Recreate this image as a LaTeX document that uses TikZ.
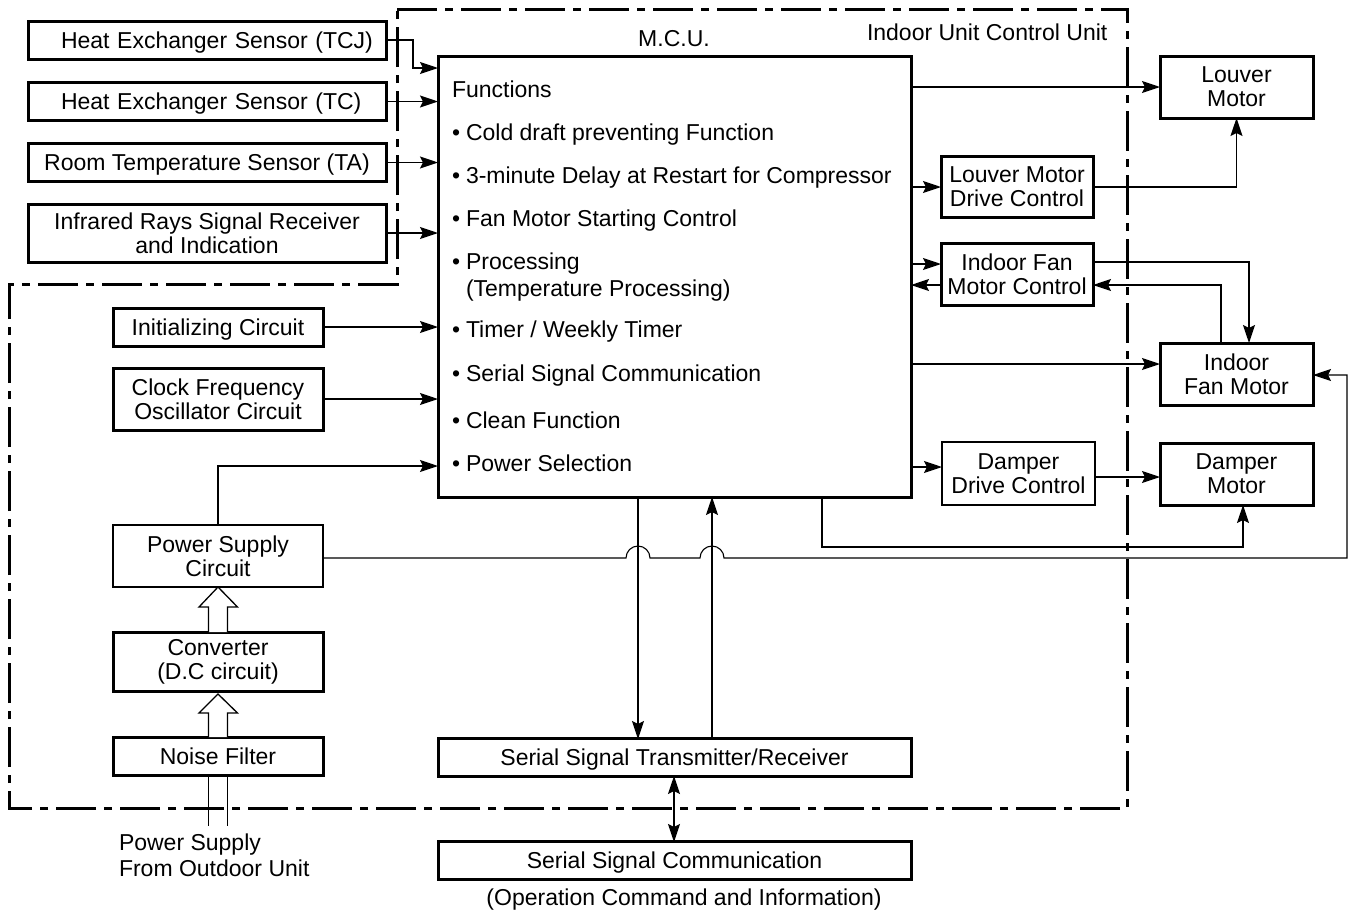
\documentclass[tikz,border=0pt]{standalone}
\usepackage{fontspec}
\setmainfont{Liberation Sans}
\usetikzlibrary{arrows.meta,calc}
\tikzset{
  every node/.style={font=\fontsize{23}{24}\selectfont},
  boxthick/.style={draw=black,line width=3pt,fill=white,inner sep=0pt,outer sep=0pt,align=center,minimum height=#1},
  boxthin/.style={draw=black,line width=1.2pt,fill=white,inner sep=0pt,outer sep=0pt,align=center,minimum height=#1},
  oneline/.style={text height=16.5pt,text depth=0pt},
  label/.style={inner sep=0pt,outer sep=0pt,anchor=base west},
  wire/.style={draw=black,line width=1.5pt,-{Stealth[length=18pt,width=12pt,inset=3pt]}},
  thinwire/.style={wire,line width=1.1pt},
  bothwire/.style={draw=black,line width=1.5pt,{Stealth[length=18pt,width=12pt,inset=3pt]}-{Stealth[length=18pt,width=12pt,inset=3pt]}},
  boundary/.style={draw=black,line width=3pt,dash pattern=on 40pt off 8pt on 8pt off 8pt},
  hollow/.style={draw=black,line width=1.3pt,fill=white},
}
\begin{document}
\begin{tikzpicture}[x=1pt,y=-1pt]
\useasboundingbox (0,0) rectangle (1352,914);
\fill[white] (0,0) rectangle (1352,914);

% boundary
\draw[boundary] (397,9) -- (1127,9) -- (1127,808) -- (9,808) -- (9,284) -- (397,284) -- cycle;

% sensors
\node[boxthick=38pt,oneline,minimum width=358pt,text width=358pt,align=left] (tcj) at (207,40) {\hspace*{33pt}Heat Exchanger Sensor (TCJ)};
\node[boxthick=38pt,oneline,minimum width=358pt,text width=358pt,align=left] (tc) at (207,101.5) {\hspace*{33pt}Heat Exchanger Sensor (TC)};
\node[boxthick=38pt,oneline,minimum width=358pt] (ta) at (207,162.5) {Room Temperature Sensor (TA)};
\node[boxthick=58pt,minimum width=358pt] (ir) at (207,233) {Infrared Rays Signal Receiver\\and Indication};

% left column
\node[boxthick=38pt,oneline,minimum width=210pt] (init) at (218,327) {Initializing Circuit};
\node[boxthick=62pt,minimum width=210pt] (clock) at (218,399) {Clock Frequency\\Oscillator Circuit};
\node[boxthin=62pt,minimum width=210pt] (psc) at (218,556) {Power Supply\\Circuit};
\node[boxthick=59pt,minimum width=210pt] (conv) at (218,662) {Converter\\(D.C circuit)};
\node[boxthick=38pt,oneline,minimum width=210pt] (noise) at (218,756) {Noise Filter};

% hollow power arrows
\draw[hollow] (208.5,632) -- (208.5,607) -- (199,607) -- (218,587) -- (237.5,607) -- (227.5,607) -- (227.5,632);
\draw[hollow] (208.5,737) -- (208.5,713) -- (199,713) -- (218,694) -- (237.5,713) -- (227.5,713) -- (227.5,737);

% MCU
\node[boxthick=441pt,minimum width=473pt] (mcu) at (674.5,276.5) {};
\node[inner sep=0pt] (mcutitle) at (674,39) {M.C.U.};
\node[label] (unitname) at (867,40) {Indoor Unit Control Unit};
\node[label] (fn) at (452,97) {Functions};
\foreach \nm/\yy/\tx in {
  f1/140/{Cold draft preventing Function},
  f2/183/{3-minute Delay at Restart for Compressor},
  f3/226/{Fan Motor Starting Control},
  f4/269/{Processing},
  f4b/296/{(Temperature Processing)},
  f5/337/{Timer / Weekly Timer},
  f6/381/{Serial Signal Communication},
  f7/428/{Clean Function},
  f8/471/{Power Selection}}
  {\node[label] (\nm) at (466,\yy) {\tx};}
\foreach \nm/\yy in {b1/140,b2/183,b3/226,b4/269,b5/337,b6/381,b7/428,b8/471}
  {\node[label] (\nm) at (452,\yy) {•};}

% right side
\node[boxthick=62pt,minimum width=153pt] (lm) at (1236.5,87) {Louver\\Motor};
\node[boxthick=61pt,minimum width=152pt] (ld) at (1017,187) {Louver Motor\\Drive Control};
\node[boxthick=62pt,minimum width=152pt] (ifc) at (1017,274) {Indoor Fan\\Motor Control};
\node[boxthick=62pt,minimum width=153pt] (ifm) at (1236.5,374) {Indoor\\Fan Motor};
\node[boxthin=63pt,minimum width=153pt] (dd) at (1018.5,473.5) {Damper\\Drive Control};
\node[boxthick=62pt,minimum width=153pt] (dm) at (1236.5,474) {Damper\\Motor};

% serial
\node[boxthick=38pt,oneline,minimum width=473pt] (st) at (674.5,757.5) {Serial Signal Transmitter/Receiver};
\node[boxthick=38pt,oneline,minimum width=473pt] (sc) at (674.5,860.5) {Serial Signal Communication};

% free texts
\node[label] (ps1) at (119,850) {Power Supply};
\node[label] (ps2) at (119,876) {From Outdoor Unit};
\node[inner sep=0pt] (opcmd) at (684,900) {(Operation Command and Information)};

% feed arrow shaft below noise filter
\coordinate (feedl) at (208.5,826);
\coordinate (feedr) at (227.5,826);
\draw[hollow] (noise.south -| feedl) -- (feedl);
\draw[hollow] (noise.south -| feedr) -- (feedr);

% sensor connectors
\coordinate (tcjturn) at (413,68);
\draw[thinwire] (tcj.east) -| (tcjturn) -- (mcu.west |- tcjturn);
\draw[wire] (tc.east) -- (tc.east -| mcu.west);
\draw[wire] (ta.east) -- (ta.east -| mcu.west);
\draw[wire] (ir.east) -- (ir.east -| mcu.west);
\draw[wire] (init.east) -- (init.east -| mcu.west);
\draw[wire] (clock.east) -- (clock.east -| mcu.west);
\draw[wire] (psc.north) |- (mcu.west |- 0,466);

% right connectors
\draw[wire] (mcu.east |- 0,87) -- (lm.west |- 0,87);
\draw[wire] (mcu.east |- ld.west) -- (ld.west);
\draw[wire] (ld.east) -| (lm.south);
\draw[wire] (mcu.east |- 0,264) -- (ifc.west |- 0,264);
\draw[wire] (ifc.west |- 0,285) -- (mcu.east |- 0,285);
\draw[wire] (ifc.east |- 0,262) -- (1249,262) -- (1249,343);
\draw[wire] (1221,343) -- (1221,285) -- (ifc.east |- 0,285);
\draw[wire] (mcu.east |- 0,364) -- (ifm.west |- 0,364);
\draw[wire] (mcu.east |- 0,467) -- (dd.west |- 0,467);
\draw[thinwire] (dd.east |- 0,477) -- (dm.west |- 0,477);
\draw[thinwire] (822,497) -- (822,547) -- (1243,547) -- (1243,505);

% power line with hops
\draw[thinwire] (psc.east |- 0,558) -- (626,558) arc[start angle=180,end angle=360,radius=12] -- (700,558) arc[start angle=180,end angle=360,radius=12] -- (1347,558) -- (1347,375) -- (ifm.east |- 0,375);

% serial connectors
\draw[thinwire] (638,497) -- (638,739);
\draw[thinwire] (712,739) -- (712,497);
\draw[bothwire] (674,776) -- (674,842);
\end{tikzpicture}
\end{document}
